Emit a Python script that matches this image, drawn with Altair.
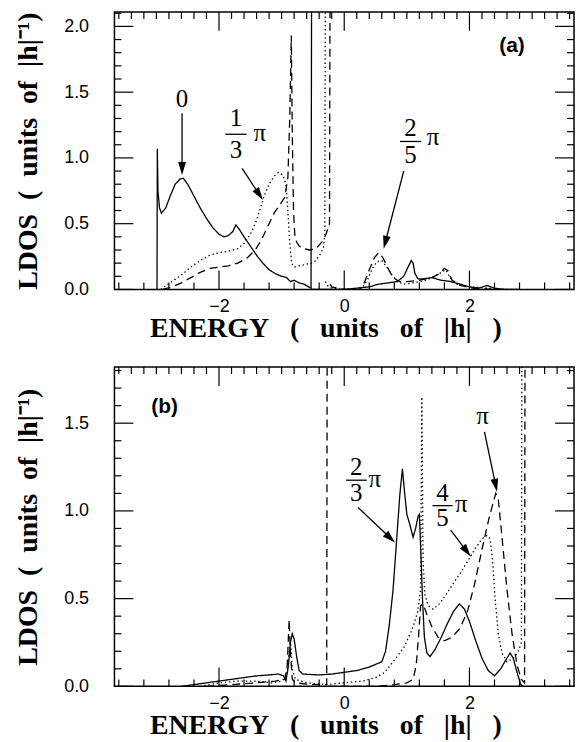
import math
import altair as alt
import pandas as pd

# ---------------- data ----------------
# panel (a): q = 0 (solid), q = pi/3 (dotted), q = 2pi/5 (dashed)
A_SOLID = [(-2.99, 0.0), (-2.985, 1.07), (-2.975, 0.75), (-2.95, 0.62), (-2.92, 0.58), (-2.85, 0.62),
           (-2.78, 0.71), (-2.70, 0.80), (-2.62, 0.84), (-2.57, 0.845), (-2.50, 0.80), (-2.40, 0.71),
           (-2.30, 0.62), (-2.20, 0.54), (-2.10, 0.47), (-2.00, 0.42), (-1.92, 0.40), (-1.85, 0.41),
           (-1.78, 0.44), (-1.73, 0.49), (-1.68, 0.46), (-1.60, 0.40), (-1.50, 0.33), (-1.40, 0.26),
           (-1.30, 0.20), (-1.20, 0.15), (-1.10, 0.12), (-1.00, 0.10), (-0.92, 0.09), (-0.86, 0.06),
           (-0.80, 0.07), (-0.72, 0.05), (-0.64, 0.04), (-0.57, 0.02), (-0.53, 0.01), (-0.52, 2.6),
           (-0.52, 0.0), (-0.50, 0.0), (-0.30, 0.0), (0.0, 0.0), (0.20, 0.01), (0.40, 0.02),
           (0.55, 0.04), (0.70, 0.05), (0.85, 0.06), (0.95, 0.10), (1.02, 0.17), (1.07, 0.22),
           (1.10, 0.20), (1.13, 0.12), (1.18, 0.08), (1.25, 0.08), (1.40, 0.09), (1.55, 0.07),
           (1.70, 0.06), (1.85, 0.04), (2.00, 0.02), (2.15, 0.01), (2.28, 0.03), (2.40, 0.01),
           (2.55, 0.0), (2.80, 0.0)]
A_DOTTED = [(-2.93, 0.0), (-2.85, 0.03), (-2.75, 0.06), (-2.6, 0.11), (-2.45, 0.17), (-2.3, 0.22),
            (-2.15, 0.26), (-2.0, 0.28), (-1.85, 0.29), (-1.7, 0.31), (-1.6, 0.35), (-1.5, 0.42),
            (-1.42, 0.50), (-1.35, 0.60), (-1.28, 0.71), (-1.2, 0.80), (-1.12, 0.86), (-1.05, 0.89),
            (-0.98, 0.87), (-0.93, 0.80), (-0.90, 0.60), (-0.87, 0.35), (-0.84, 0.20), (-0.80, 0.17),
            (-0.72, 0.18), (-0.62, 0.19), (-0.52, 0.20), (-0.45, 0.22), (-0.38, 0.27), (-0.33, 0.32),
            (-0.31, 0.42), (-0.30, 2.6), (-0.30, 0.06), (-0.27, 0.03), (-0.2, 0.01), (0.0, 0.0),
            (0.2, 0.0), (0.3, 0.02), (0.38, 0.08), (0.45, 0.16), (0.52, 0.21), (0.6, 0.22),
            (0.68, 0.17), (0.76, 0.11), (0.85, 0.06), (0.95, 0.04), (1.1, 0.05), (1.3, 0.07),
            (1.45, 0.10), (1.55, 0.13), (1.62, 0.15), (1.68, 0.10), (1.8, 0.04), (2.0, 0.02),
            (2.3, 0.01), (2.6, 0.0)]
A_DASHED = [(-2.9, 0.0), (-2.75, 0.02), (-2.6, 0.05), (-2.45, 0.09), (-2.3, 0.13), (-2.15, 0.16),
            (-2.0, 0.17), (-1.85, 0.18), (-1.7, 0.20), (-1.55, 0.24), (-1.42, 0.30), (-1.32, 0.38),
            (-1.22, 0.48), (-1.12, 0.58), (-1.02, 0.65), (-0.95, 0.70), (-0.90, 0.85), (-0.87, 1.3),
            (-0.845, 1.93), (-0.83, 1.2), (-0.81, 0.6), (-0.79, 0.42), (-0.76, 0.36), (-0.72, 0.33),
            (-0.65, 0.31), (-0.55, 0.30), (-0.45, 0.31), (-0.36, 0.36), (-0.29, 0.42), (-0.235, 0.5),
            (-0.225, 2.6), (-0.225, 0.04), (-0.2, 0.02), (0.0, 0.0), (0.25, 0.0), (0.32, 0.05),
            (0.4, 0.15), (0.48, 0.24), (0.55, 0.28), (0.62, 0.24), (0.7, 0.16), (0.78, 0.09),
            (0.88, 0.06), (1.0, 0.06), (1.2, 0.07), (1.4, 0.09), (1.52, 0.12), (1.6, 0.16),
            (1.66, 0.14), (1.72, 0.07), (1.85, 0.03), (2.05, 0.01), (2.4, 0.0)]

# panel (b): q = 2pi/3 (solid), q = 4pi/5 (dotted), q = pi (dashed)
B_SOLID = [(-2.6, 0.0), (-2.4, 0.01), (-2.2, 0.02), (-2.0, 0.03), (-1.8, 0.04), (-1.6, 0.05),
           (-1.4, 0.06), (-1.2, 0.065), (-1.05, 0.07), (-0.97, 0.06), (-0.93, 0.03), (-0.89, 0.12),
           (-0.86, 0.25), (-0.83, 0.30), (-0.80, 0.27), (-0.76, 0.17), (-0.72, 0.09), (-0.66, 0.07),
           (-0.4, 0.065), (-0.2, 0.07), (0.0, 0.08), (0.2, 0.09), (0.4, 0.11), (0.6, 0.14),
           (0.66, 0.2), (0.72, 0.35), (0.78, 0.55), (0.84, 0.85), (0.89, 1.1), (0.93, 1.24),
           (0.96, 1.12), (1.0, 0.98), (1.05, 0.92), (1.1, 0.85), (1.14, 0.9), (1.18, 0.97),
           (1.2, 0.98), (1.22, 0.8), (1.25, 0.5), (1.28, 0.28), (1.32, 0.19), (1.37, 0.17),
           (1.45, 0.21), (1.55, 0.28), (1.65, 0.36), (1.75, 0.43), (1.84, 0.47), (1.92, 0.44),
           (2.0, 0.37), (2.1, 0.26), (2.2, 0.16), (2.3, 0.09), (2.4, 0.06), (2.5, 0.1),
           (2.58, 0.15), (2.65, 0.19), (2.7, 0.16), (2.76, 0.08), (2.82, 0.01), (2.86, 0.0)]
B_DOTTED = [(-2.3, 0.0), (-2.0, 0.02), (-1.7, 0.03), (-1.4, 0.03), (-1.15, 0.02), (-1.0, 0.03),
            (-0.92, 0.06), (-0.88, 0.2), (-0.855, 0.24), (-0.83, 0.1), (-0.78, 0.04), (-0.6, 0.02),
            (-0.3, 0.01), (0.0, 0.02), (0.3, 0.03), (0.5, 0.05), (0.65, 0.08), (0.8, 0.15),
            (0.95, 0.22), (1.08, 0.32), (1.17, 0.42), (1.22, 0.55), (1.24, 1.65), (1.26, 0.7),
            (1.29, 0.52), (1.34, 0.46), (1.42, 0.44), (1.52, 0.47), (1.62, 0.52), (1.75, 0.59),
            (1.88, 0.66), (2.0, 0.73), (2.1, 0.79), (2.2, 0.84), (2.28, 0.86), (2.33, 0.84),
            (2.37, 0.72), (2.41, 0.5), (2.46, 0.3), (2.52, 0.19), (2.6, 0.14), (2.7, 0.16),
            (2.78, 0.2), (2.83, 0.25), (2.84, 2.6)]
B_DASHED = [(-2.2, 0.0), (-1.8, 0.01), (-1.4, 0.02), (-1.1, 0.03), (-0.95, 0.04), (-0.91, 0.12),
            (-0.88, 0.38), (-0.86, 0.2), (-0.83, 0.04), (-0.78, 0.02), (-0.5, 0.01), (-0.28, 0.01),
            (-0.27, 2.6), (-0.27, 0.0), (0.0, 0.0), (0.5, 0.0), (0.8, 0.01), (1.0, 0.02),
            (1.1, 0.04), (1.15, 0.12), (1.19, 0.3), (1.22, 0.46), (1.26, 0.47), (1.32, 0.41),
            (1.4, 0.34), (1.5, 0.28), (1.6, 0.26), (1.72, 0.28), (1.85, 0.33), (1.97, 0.43),
            (2.08, 0.58), (2.2, 0.78), (2.32, 0.97), (2.42, 1.1), (2.46, 1.07), (2.52, 0.85),
            (2.6, 0.55), (2.68, 0.3), (2.76, 0.12), (2.83, 0.04), (2.88, 0.02), (2.89, 2.6)]

# annotations (data coordinates)
A_TEXT = [("0", -2.59, 1.45), ("1", -1.73, 1.30), ("3", -1.73, 1.06), ("π", -1.35, 1.19),
          ("2", 1.06, 1.23), ("5", 1.06, 1.02), ("π", 1.42, 1.16)]
A_BARS = [(-1.90, -1.56, 1.18), (0.89, 1.23, 1.125)]
A_ARROWS = [(-2.59, 1.34, -2.59, 0.87), (-1.63, 0.92, -1.30, 0.68), (0.95, 0.90, 0.63, 0.31)]
A_TAG = [("(a)", 2.68, 1.85)]

B_TEXT = [("2", 0.19, 1.25), ("3", 0.19, 1.10), ("π", 0.49, 1.18), ("4", 1.57, 1.10),
          ("5", 1.57, 0.96), ("π", 1.87, 1.04), ("π", 2.21, 1.54)]
B_BARS = [(0.03, 0.36, 1.175), (1.41, 1.73, 1.03)]
B_ARROWS = [(0.22, 1.02, 0.81, 0.82), (1.70, 0.89, 2.02, 0.74), (2.24, 1.45, 2.44, 1.11)]
B_TAG = [("(b)", -2.87, 1.59)]

X_LABELS = [-2, 0, 2]
YA_LABELS = [0.0, 0.5, 1.0, 1.5, 2.0]
YB_LABELS = [0.0, 0.5, 1.0, 1.5]

# ---------------- layout constants ----------------
XMIN, XMAX = -3.67, 3.67
W = 462
HA, HB = 279, 321
YA_MAX, YB_MAX = 2.11, 1.82
MAJ, MIN = 19, 7

NB = "\u00a0"
X_TITLE = ("ENERGY" + NB * 3 + "(" + NB * 3 + "units" + NB * 3 + "of" + NB * 3 + "|h|" + NB * 3 + ")")
Y_TITLE = ("LDOS" + NB * 2 + "(" + NB * 2 + "units" + NB * 2 + "of" + NB * 2 + "|h|\u207b\u00b9)")

SERIF = "Liberation Serif"
SANS = "Liberation Sans"


def make_panel(solid, dotted, dashed, texts, bars, arrows, tag, ylabels, H, ymax):
    xs = alt.Scale(domain=[XMIN, XMAX], nice=False, zero=False)
    ys = alt.Scale(domain=[0, ymax], nice=False, zero=False)
    xaxis = alt.Axis(values=X_LABELS, format="d", ticks=False, tickSize=0, domain=False, grid=False,
                     labelFont=SANS, labelFontSize=18, labelColor="black", labelPadding=8,
                     labelFlush=False, labelOverlap=False,
                     title=X_TITLE, titleFont=SERIF, titleFontSize=28, titleFontWeight="bold",
                     titleColor="black", titleX=212, titleY=47, titleAlign="center",
                     titleBaseline="alphabetic")
    yaxis = alt.Axis(values=ylabels, format=".1f", ticks=False, tickSize=0, domain=False, grid=False,
                     labelFont=SANS, labelFontSize=18, labelColor="black", labelPadding=26,
                     labelFlush=False, labelOverlap=False,
                     title=Y_TITLE, titleFont=SERIF, titleFontSize=28, titleFontWeight="bold",
                     titleColor="black", titleX=-78, titleY=H / 2, titleAlign="center",
                     titleBaseline="alphabetic", titleAngle=270)
    X = lambda f: alt.X(f, type="quantitative", scale=xs, axis=xaxis)
    Y = lambda f: alt.Y(f, type="quantitative", scale=ys, axis=yaxis)

    layers = []
    for pts, dash in ((solid, [1, 0]), (dotted, [1.4, 2.8]), (dashed, [8, 5])):
        df = pd.DataFrame(pts, columns=["x", "y"])
        df["i"] = range(len(df))
        # a spike that leaves the top of the frame ends its path; the curve resumes after it
        seg, s = [], 0
        prev_top = False
        for y in df["y"]:
            if prev_top:
                s += 1
            seg.append(s)
            prev_top = y > ymax
        df["seg"] = seg
        layers.append(alt.Chart(df).mark_line(color="black", strokeWidth=1.3, strokeDash=dash,
                                              clip=True, interpolate="linear")
                      .encode(x=X("x"), y=Y("y"), detail="seg:N", order=alt.Order("i:Q")))

    # inward ticks on all four sides (drawn in data units)
    px = W / (XMAX - XMIN)
    py = H / ymax

    def rnd(v):
        return round(v, 3)
    bot = [rnd(-3.6 + 0.4 * k) for k in range(19)]
    top = [rnd(-3.6 + 0.2 * k) for k in range(37)]
    yt = [rnd(0.1 * k) for k in range(int(ymax * 10 + 1e-6) + 1)]
    xmaj = [-2.0, 0.0, 2.0]
    ymaj = [v for v in yt if abs(v * 2 - round(v * 2)) < 1e-6]
    xt = []
    for v in bot:
        L = MAJ if v in xmaj else MIN
        xt.append({"x": v, "y": 0.0, "y2": L / py})
    for v in top:
        L = MAJ if v in xmaj else MIN
        xt.append({"x": v, "y": ymax, "y2": ymax - L / py})
    layers.append(alt.Chart(pd.DataFrame(xt)).mark_rule(color="black", strokeWidth=1.2)
                  .encode(x=X("x"), y=Y("y"), y2="y2:Q"))
    ytk = []
    for v in yt:
        L = MAJ if v in ymaj else MIN
        ytk.append({"y": v, "x": XMIN, "x2": XMIN + L / px})
        ytk.append({"y": v, "x": XMAX, "x2": XMAX - L / px})
    layers.append(alt.Chart(pd.DataFrame(ytk)).mark_rule(color="black", strokeWidth=1.2)
                  .encode(x=X("x"), x2="x2:Q", y=Y("y")))

    # labels
    tdf = pd.DataFrame(texts, columns=["t", "x", "y"])
    layers.append(alt.Chart(tdf).mark_text(font=SERIF, fontSize=25, color="black", baseline="middle",
                                           align="center")
                  .encode(x=X("x"), y=Y("y"), text="t:N"))
    gdf = pd.DataFrame(tag, columns=["t", "x", "y"])
    layers.append(alt.Chart(gdf).mark_text(font=SANS, fontSize=21, fontWeight="bold", color="black",
                                           baseline="middle", align="center")
                  .encode(x=X("x"), y=Y("y"), text="t:N"))
    bdf = pd.DataFrame(bars, columns=["x", "x2", "y"])
    layers.append(alt.Chart(bdf).mark_rule(color="black", strokeWidth=1.3)
                  .encode(x=X("x"), x2="x2:Q", y=Y("y")))

    # arrows
    shafts, heads = [], []
    for x1, y1, x2, y2 in arrows:
        dx = (x2 - x1) * px
        dy = -(y2 - y1) * py
        Ln = math.hypot(dx, dy)
        ang = math.degrees(math.atan2(dx, -dy)) % 360
        hx = x2 - (dx / Ln) * 6.5 / px
        hy = y2 + (dy / Ln) * 6.5 / py
        sx = x2 - (dx / Ln) * 9 / px
        sy = y2 + (dy / Ln) * 9 / py
        shafts.append({"x": x1, "y": y1, "x2": sx, "y2": sy})
        heads.append({"x": hx, "y": hy, "a": ang})
    layers.append(alt.Chart(pd.DataFrame(shafts)).mark_rule(color="black", strokeWidth=1.3)
                  .encode(x=X("x"), y=Y("y"), x2="x2:Q", y2="y2:Q"))
    layers.append(alt.Chart(pd.DataFrame(heads))
                  .mark_point(shape="M0,-1L0.6,1L-0.6,1Z", filled=True, size=170, color="black",
                              opacity=1, strokeWidth=0)
                  .encode(x=X("x"), y=Y("y"), angle=alt.Angle("a:Q", scale=None)))

    return alt.layer(*layers).properties(width=W, height=H)


pa = make_panel(A_SOLID, A_DOTTED, A_DASHED, A_TEXT, A_BARS, A_ARROWS, A_TAG, YA_LABELS, HA, YA_MAX)
pb = make_panel(B_SOLID, B_DOTTED, B_DASHED, B_TEXT, B_BARS, B_ARROWS, B_TAG, YB_LABELS, HB, YB_MAX)

chart = (alt.vconcat(pa, pb, spacing=22)
         .properties(padding={"left": 6, "top": 0, "right": 0, "bottom": 0}, background="white")
         .configure_view(stroke="black", strokeWidth=1.5))

chart.save("out.html", embed_options={"renderer": "svg", "actions": False})
